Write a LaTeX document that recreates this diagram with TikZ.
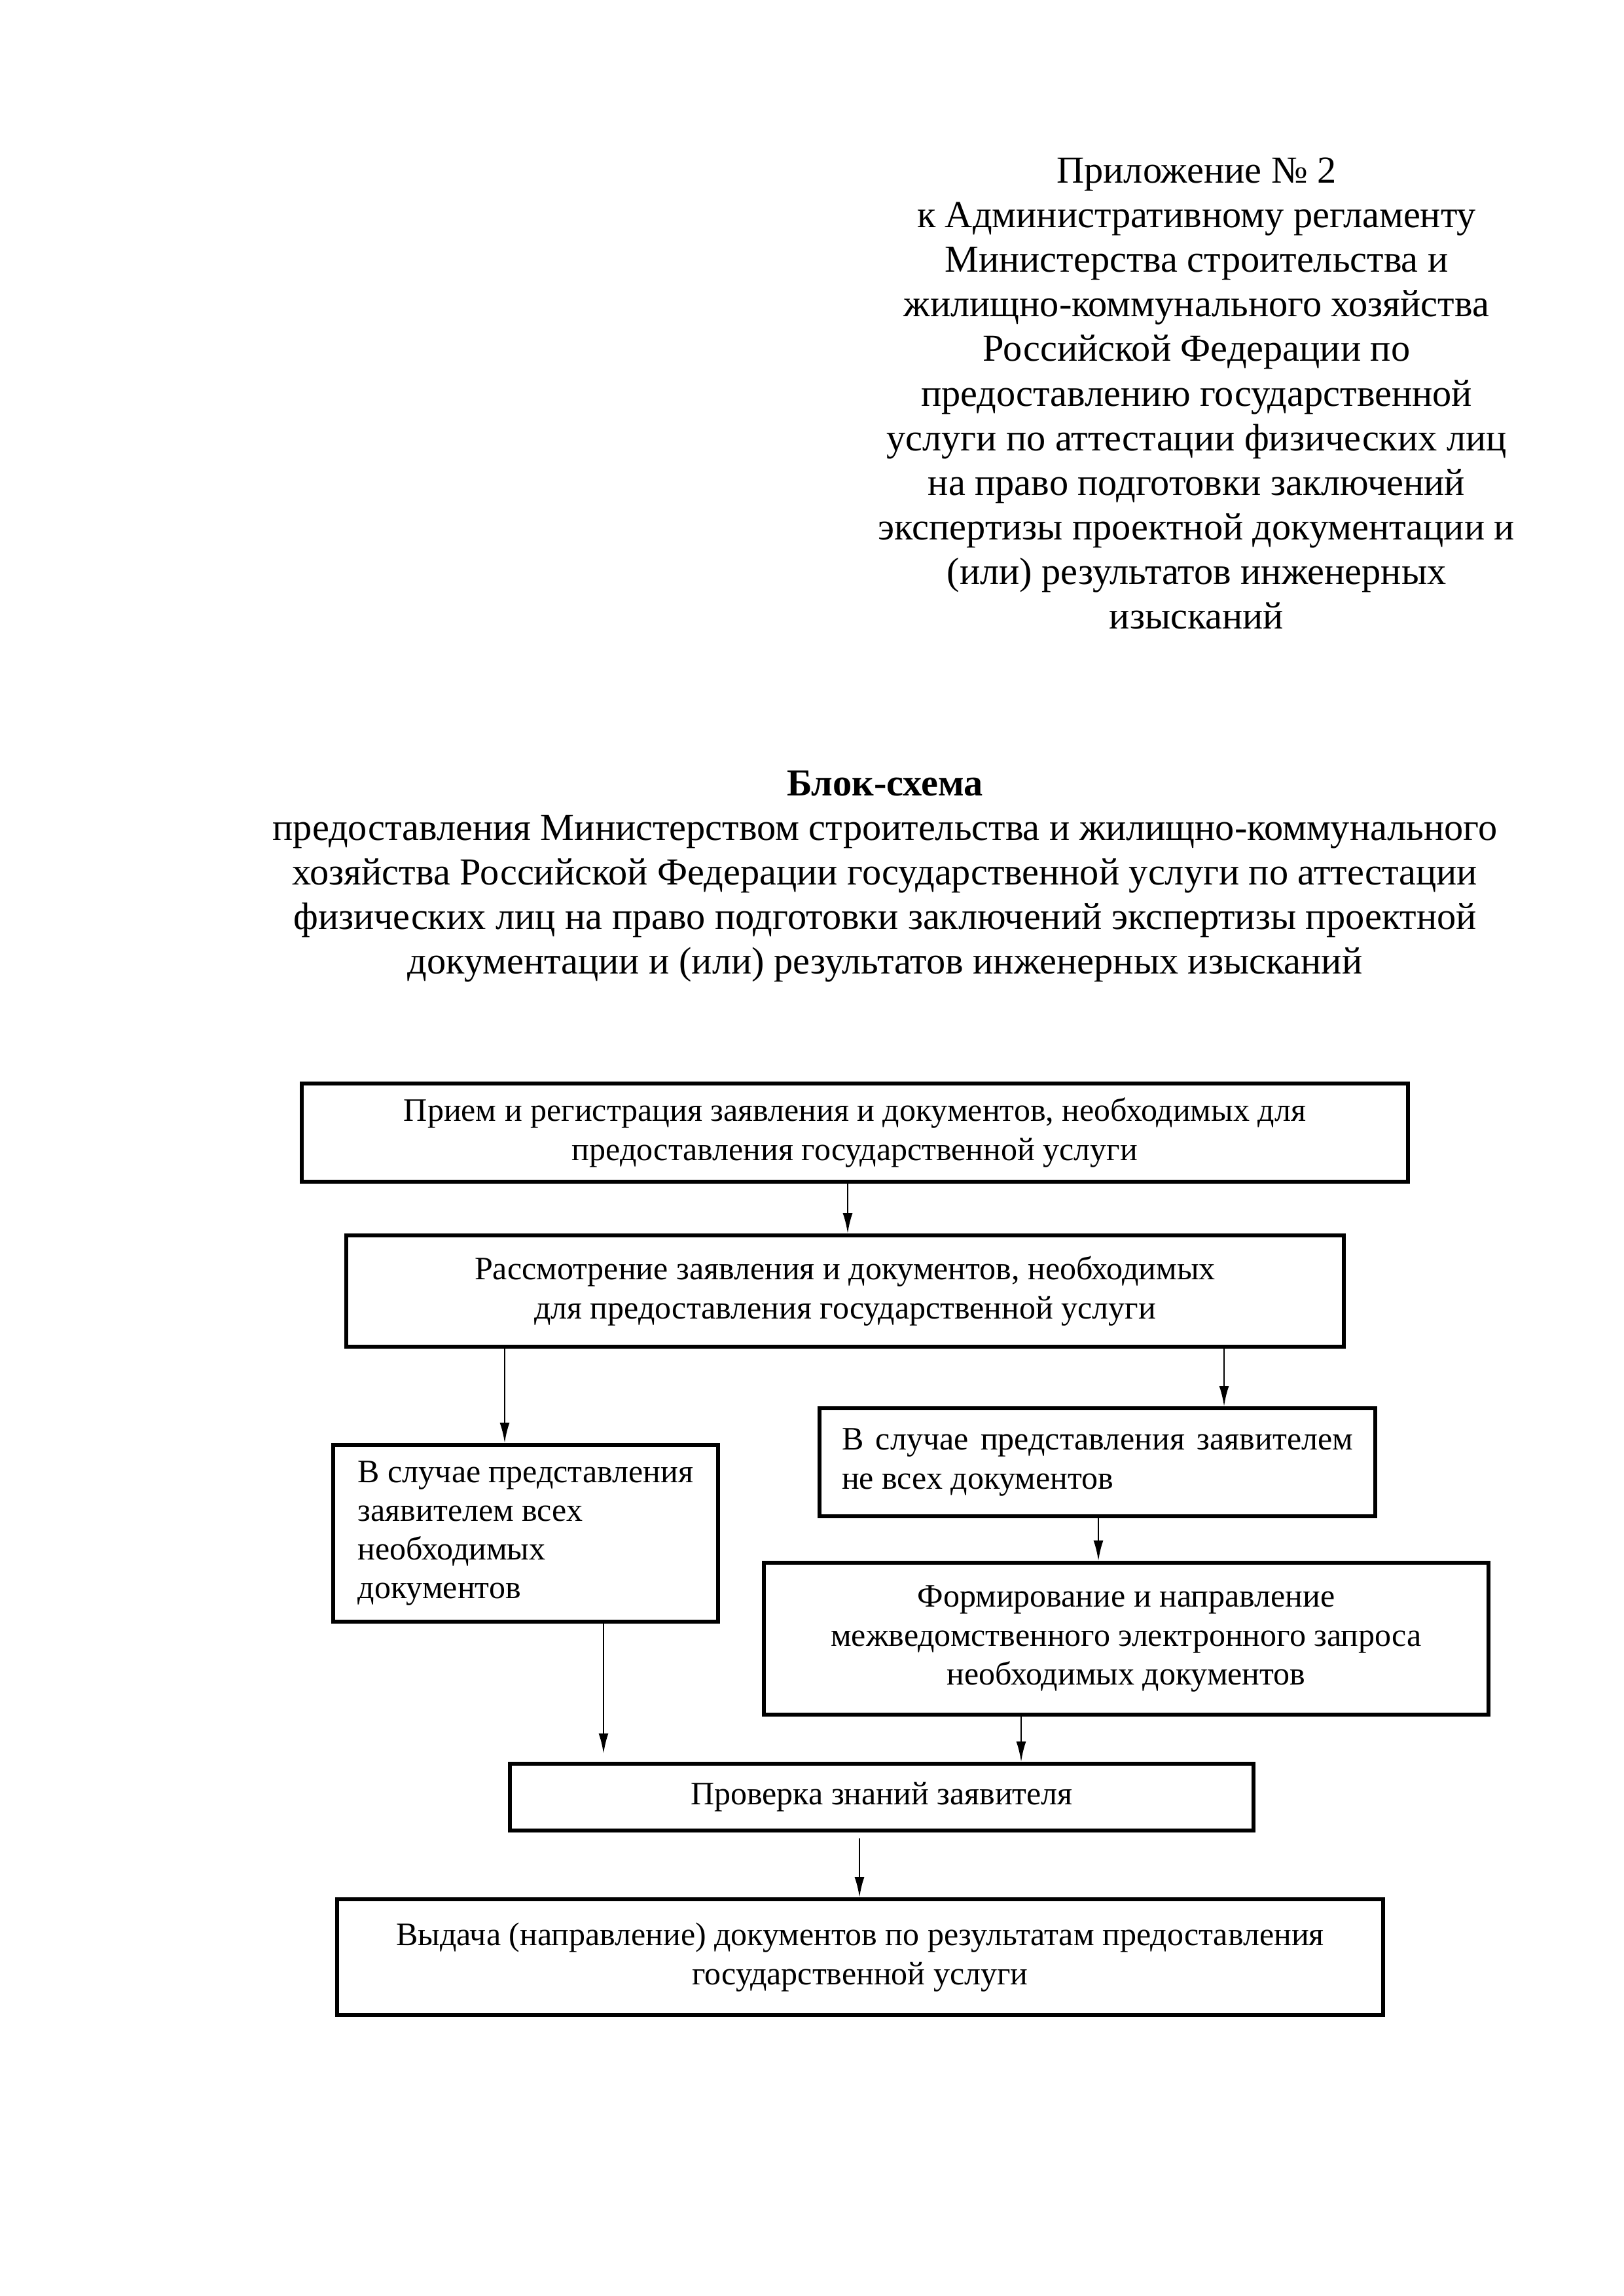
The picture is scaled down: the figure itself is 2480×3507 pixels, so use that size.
\documentclass[tikz,border=0pt]{standalone}
\usepackage{fontspec}
\setmainfont{Liberation Serif}
\usetikzlibrary{arrows.meta}
\begin{document}
\begin{tikzpicture}[x=0.24003pt,y=-0.24003pt,
  box/.style={draw,line width=1.3pt,inner sep=0pt,align=center,font=\fontsize{12}{14.2}\selectfont},
  leftbox/.style={box,align=left},
  arr/.style={line width=0.7pt,-{Latex[length=7.5pt,width=3.6pt]}},
  hdrtext/.style={inner sep=0pt,align=center,font=\fontsize{14}{16.35}\selectfont}
]
\useasboundingbox[fill=white] (0,0) rectangle (2480,3507);

\node[hdrtext,anchor=north] (hdr) at (1828,240) {Приложение №~2\\
к Административному регламенту\\
Министерства строительства и\\
жилищно-коммунального хозяйства\\
Российской Федерации по\\
предоставлению государственной\\
услуги по аттестации физических лиц\\
на право подготовки заключений\\
экспертизы проектной документации и\\
(или) результатов инженерных\\
изысканий};

\node[hdrtext,anchor=north] (title) at (1352,1176) {\textbf{Блок-схема}\\
предоставления Министерством строительства и жилищно-коммунального\\
хозяйства Российской Федерации государственной услуги по аттестации\\
физических лиц на право подготовки заключений экспертизы проектной\\
документации и (или) результатов инженерных изысканий};

\node[box,minimum width=405.65pt,minimum height=36.00pt] (b1) at (1306,1730)
  {Прием и регистрация заявления и документов, необходимых для\\ предоставления государственной услуги};
\node[box,minimum width=365.81pt,minimum height=40.81pt] (b2) at (1291,1972)
  {Рассмотрение заявления и документов, необходимых\\ для предоставления государственной услуги};
\node[leftbox,minimum width=141.14pt,minimum height=64.81pt] (b3) at (803,2342)
  {В случае представления\\ заявителем всех\\ необходимых\\ документов};
\node[leftbox,minimum width=203.79pt,minimum height=39.60pt] (b4) at (1676.5,2233.5)
  {\makebox[187.46pt][s]{В случае представления заявителем}\\ не всех документов};
\node[box,minimum width=265.71pt,minimum height=55.69pt] (b5) at (1720.5,2503)
  {Формирование и направление\\ межведомственного электронного запроса\\ необходимых документов};
\node[box,minimum width=272.67pt,minimum height=24.48pt] (b6) at (1347,2745)
  {Проверка знаний заявителя};
\node[box,minimum width=383.57pt,minimum height=42.49pt] (b7) at (1314,2989.5)
  {Выдача (направление) документов по результатам предоставления\\ государственной услуги};

\coordinate (x1) at (1295,0);
\coordinate (x2) at (771,0);
\coordinate (x3) at (1870,0);
\coordinate (x4) at (1678,0);
\coordinate (x5) at (922,0);
\coordinate (x6) at (1560,0);
\coordinate (x7) at (1313,0);

\draw[arr] (b1.south -| x1) -- (b2.north -| x1);
\draw[arr] (b2.south -| x2) -- (b3.north -| x2);
\draw[arr] (b2.south -| x3) -- (b4.north -| x3);
\draw[arr] (b4.south -| x4) -- (b5.north -| x4);
\draw[arr,shorten >=3pt] (b3.south -| x5) -- (b6.north -| x5);
\draw[arr] (b5.south -| x6) -- (b6.north -| x6);
\draw[arr,shorten <=2.2pt] (b6.south -| x7) -- (b7.north -| x7);
\end{tikzpicture}
\end{document}
